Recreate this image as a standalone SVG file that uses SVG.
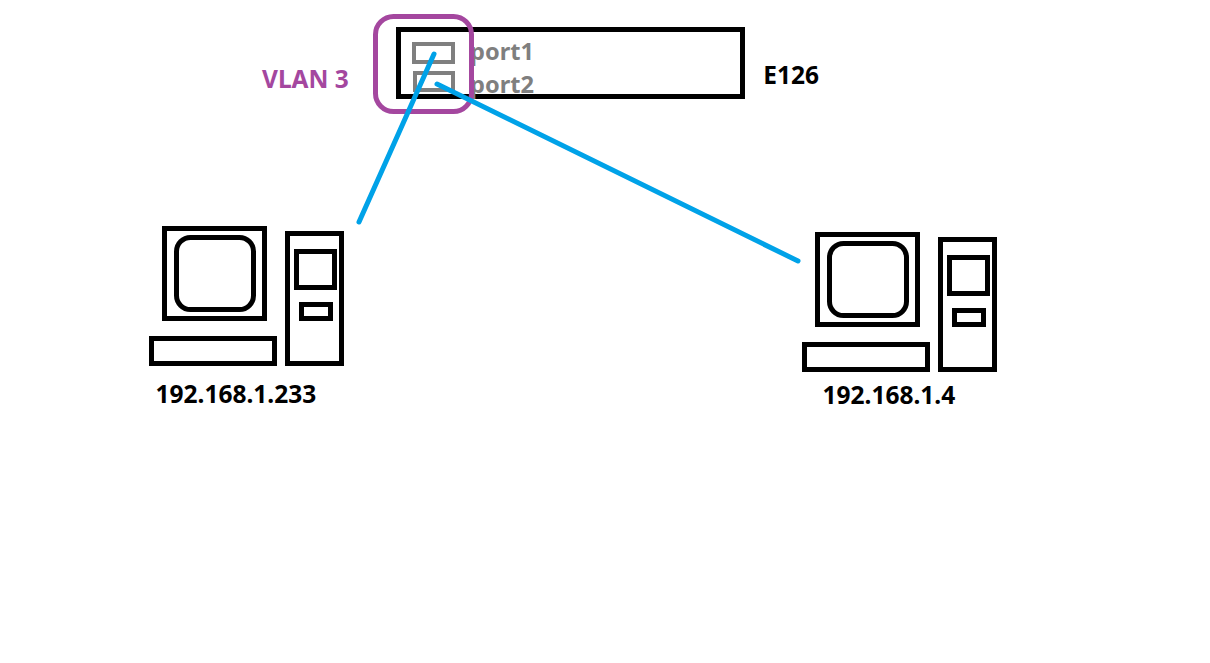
<svg xmlns="http://www.w3.org/2000/svg" width="1210" height="663" viewBox="0 0 1210 663">
<style>
.k{fill:none;stroke:#000;stroke-width:5}
.p{fill:none;stroke:#7f7f7f;stroke-width:4}
.t{font-family:"Noto Sans","Open Sans","Liberation Sans",sans-serif;font-weight:700;font-size:24.5px;fill:#000}
.g{font-size:23.6px;fill:#7f7f7f}
.c{fill:none;stroke:#00a2e8;stroke-width:5;stroke-linecap:round}
</style>
<defs>
<g id="pc">
<rect class="k" x="164.5" y="228.5" width="100" height="90"/>
<rect class="k" x="176.5" y="237.5" width="77" height="72" rx="14"/>
<rect class="k" x="151.5" y="338.5" width="123" height="25"/>
<rect class="k" x="287.5" y="233.5" width="54" height="130"/>
<rect class="k" x="296.5" y="251.5" width="38" height="36"/>
<rect class="k" x="301.5" y="304.5" width="29" height="14"/>
</g>
</defs>
<rect width="1210" height="663" fill="#fff"/>
<g id="switch">
<rect class="k" x="398.5" y="29.5" width="344" height="67"/>
<text class="t" x="819" y="84" text-anchor="end">E126</text>
</g>
<g id="port1">
<rect class="p" x="414" y="44" width="39" height="18"/>
<text class="t g" x="470" y="60">port1</text>
</g>
<g id="port2">
<rect class="p" x="415" y="73" width="38" height="17"/>
<text class="t g" x="470" y="93">port2</text>
</g>
<g id="vlan3">
<rect x="375.5" y="16.5" width="96" height="95" rx="18" fill="none" stroke="#a4479f" stroke-width="5"/>
<text class="t" x="262" y="88" style="fill:#a4479f">VLAN 3</text>
</g>
<g id="pc1">
<use href="#pc"/>
<text class="t" x="155.5" y="403">192.168.1.233</text>
</g>
<g id="pc2">
<use href="#pc" x="653" y="6"/>
<text class="t" x="822.5" y="404">192.168.1.4</text>
</g>
<g id="connectors">
<line class="c" x1="359" y1="222" x2="434" y2="54"/>
<line class="c" x1="798" y1="261" x2="437" y2="84"/>
</g>
</svg>
